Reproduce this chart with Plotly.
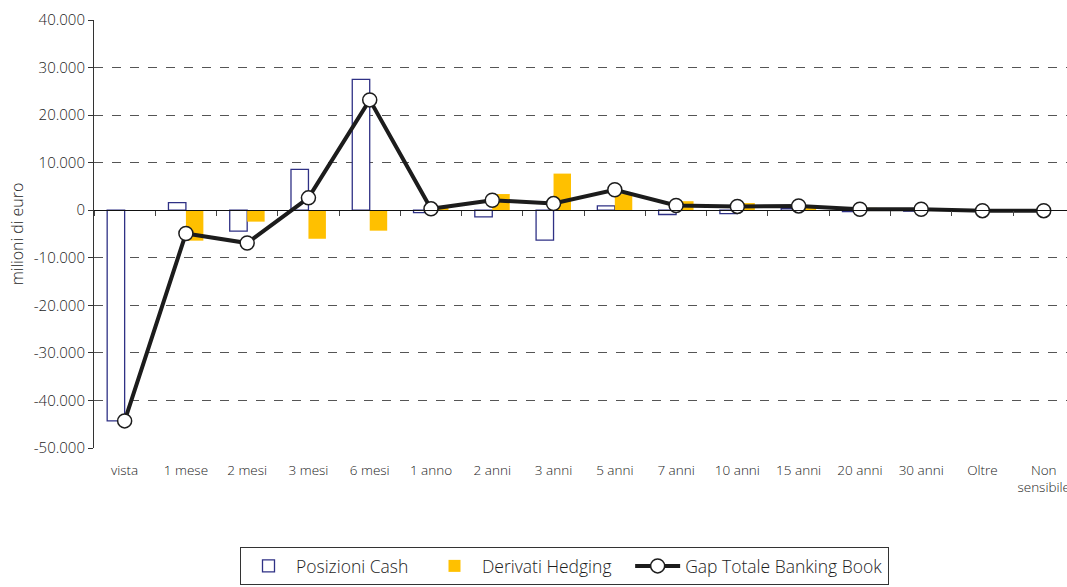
import plotly.graph_objects as go

categories = ["vista", "1 mese", "2 mesi", "3 mesi", "6 mesi", "1 anno", "2 anni", "3 anni",
              "5 anni", "7 anni", "10 anni", "15 anni", "20 anni", "30 anni", "Oltre", "Non<br>sensibile"]
posizioni_cash = [-44300, 1600, -4400, 8600, 27500, -500, -1400, -6300, 900, -900, -700, 400, -300, -200, -100, -100]
derivati_hedging = [0, -6400, -2400, -6000, -4300, 800, 3400, 7700, 3400, 1900, 1500, 500, 500, 400, 0, 0]
gap_totale = [-44300, -4900, -6900, 2600, 23200, 300, 2100, 1400, 4300, 1000, 800, 900, 200, 200, -100, -100]

series_names = ["Posizioni Cash", "Derivati Hedging", "Gap Totale Banking Book"]

y_tickvals = [40000, 30000, 20000, 10000, 0, -10000, -20000, -30000, -40000, -50000]
y_ticktext = ["40.000", "30.000", "20.000", "10.000", "0", "-10.000", "-20.000", "-30.000", "-40.000", "-50.000"]

FONT = "Open Sans"
TXT = "#1c1c1c"
y_range = [-50000, 40000]
x_range = [-0.5, 15.38]
PAD = "\u00a0" * 3  # spacing between legend entries

fig = go.Figure()
fig.add_trace(go.Bar(
    name=series_names[0] + PAD, x=categories, y=posizioni_cash,
    marker=dict(color="white", line=dict(color="#2f3185", width=1.3)),
))
fig.add_trace(go.Bar(
    name=series_names[1] + PAD, x=categories, y=derivati_hedging,
    marker=dict(color="#FFC000", line=dict(width=0)),
))
# invisible helper trace so the zero-line axis (x2) is drawn
fig.add_trace(go.Scatter(
    x=categories, y=gap_totale, xaxis="x2", mode="lines",
    line=dict(width=0), opacity=0, showlegend=False, hoverinfo="skip",
))
fig.add_trace(go.Scatter(
    name=series_names[2], x=categories, y=gap_totale, mode="lines+markers",
    line=dict(color="#1c1c1c", width=4),
    marker=dict(size=14, color="white", line=dict(color="#1c1c1c", width=1.5)),
))

fig.update_layout(
    width=1067, height=587,
    margin=dict(l=94, r=0, t=20, b=139),
    paper_bgcolor="white", plot_bgcolor="white",
    font=dict(family=FONT, size=14, color=TXT, weight=300),
    barmode="group", bargap=0.43, bargroupgap=0,
    showlegend=True,
    legend=dict(
        orientation="h", xref="container", yref="container",
        x=240 / 1067, xanchor="left", y=1 - 547 / 587, yanchor="top",
        bordercolor="#333333", borderwidth=1,
        font=dict(family=FONT, size=17.5, color=TXT, weight=300),
        itemwidth=45,
        itemclick=False,
    ),
    xaxis=dict(
        type="category", categoryorder="array", categoryarray=categories,
        range=x_range, showline=False, ticks="", showgrid=False, zeroline=False,
        tickfont=dict(family=FONT, size=13.5, color=TXT, weight=300), ticklabelstandoff=12,
        automargin=False,
    ),
    xaxis2=dict(
        type="category", categoryorder="array", categoryarray=categories,
        overlaying="x", anchor="free", position=(0 - y_range[0]) / (y_range[1] - y_range[0]),
        range=x_range, side="bottom",
        showline=True, linecolor="#111111", linewidth=1.3,
        ticks="outside", ticklen=5, tickcolor="#444444", tickwidth=1,
        tickson="boundaries", showticklabels=False, showgrid=False, zeroline=False,
        automargin=False,
    ),
    yaxis=dict(
        range=y_range, tickvals=y_tickvals, ticktext=y_ticktext,
        showline=True, linecolor="#333333", linewidth=1,
        ticks="outside", ticklen=5, tickcolor="#333333",
        showgrid=True, gridcolor="#555555", gridwidth=1, griddash="dash",
        zeroline=False, automargin=False,
        tickfont=dict(family=FONT, size=15, color=TXT, weight=300),
        title=dict(text="milioni di euro", font=dict(family=FONT, size=16, color=TXT, weight=300), standoff=6),
    ),
)

fig.write_html(
    "out.html",
    config={"displayModeBar": False},
    post_script="document.body.style.margin='0';document.body.style.overflow='hidden';",
)
